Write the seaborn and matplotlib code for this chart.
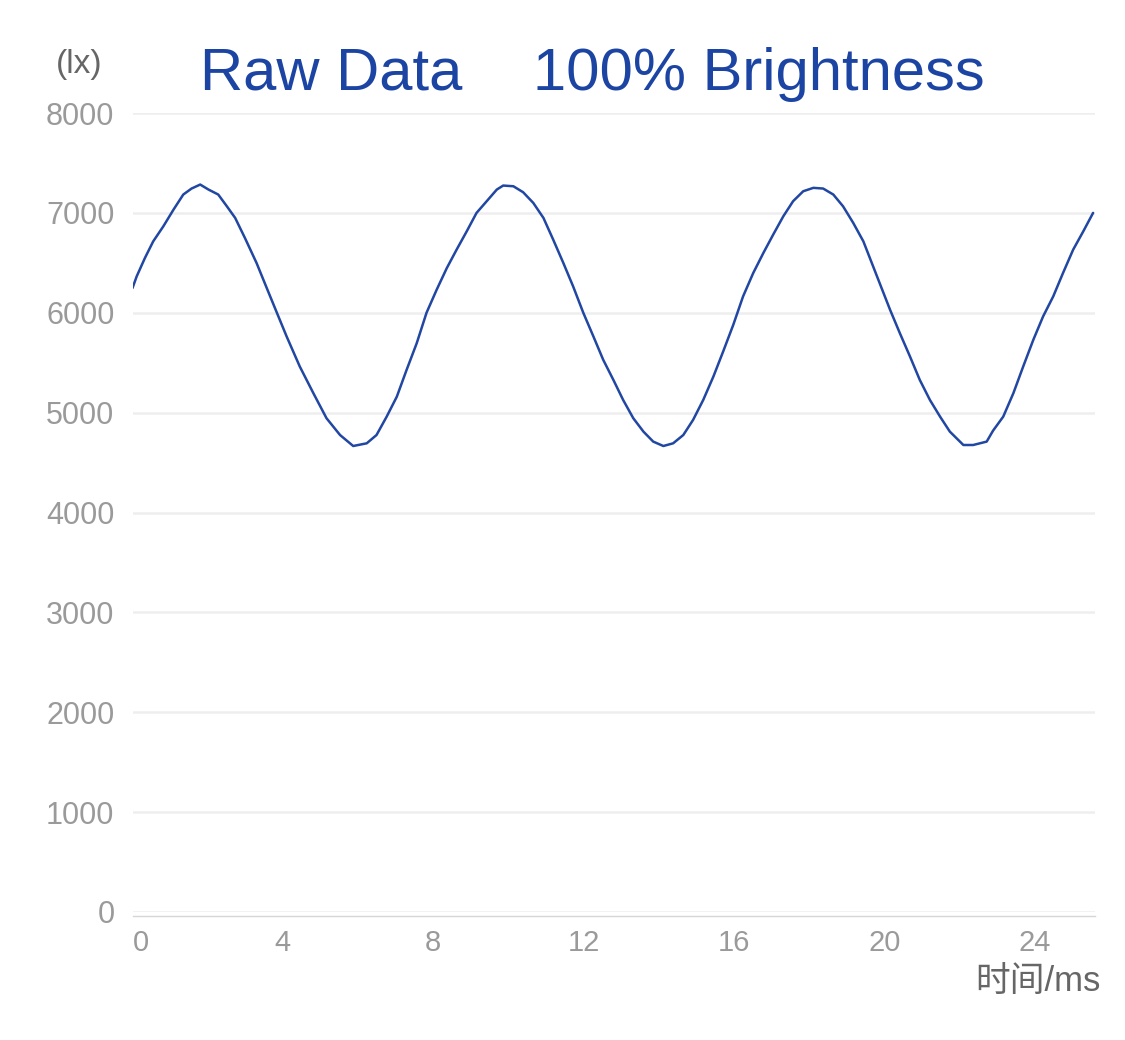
import pandas as pd
import seaborn as sns
import matplotlib.pyplot as plt

# readings from the reference curve (time in ms, illuminance in lx)
time_ms = [
    0.00, 0.11, 0.33, 0.55, 0.82, 1.09, 1.35, 1.57, 1.80, 2.02,
    2.28, 2.51, 2.73, 2.99, 3.30, 3.57, 3.84, 4.10, 4.45, 4.81,
    5.16, 5.52, 5.87, 6.23, 6.49, 6.76, 7.03, 7.29, 7.56, 7.82,
    8.09, 8.36, 8.62, 8.89, 9.15, 9.42, 9.69, 9.86, 10.13, 10.39,
    10.66, 10.93, 11.19, 11.46, 11.72, 11.99, 12.26, 12.52, 12.79, 13.05,
    13.32, 13.59, 13.85, 14.12, 14.38, 14.65, 14.91, 15.18, 15.45, 15.71,
    15.98, 16.24, 16.51, 16.78, 17.04, 17.31, 17.57, 17.84, 18.11, 18.37,
    18.64, 18.90, 19.17, 19.44, 19.70, 19.88, 20.15, 20.41, 20.68, 20.94,
    21.21, 21.48, 21.74, 22.10, 22.36, 22.72, 22.89, 23.16, 23.43, 23.69,
    23.96, 24.22, 24.49, 24.75, 25.02, 25.29, 25.55,
]
lux = [
    6248, 6364, 6549, 6715, 6866, 7033, 7184, 7244, 7284, 7234,
    7184, 7066, 6950, 6749, 6498, 6248, 6000, 5762, 5461, 5195,
    4944, 4776, 4666, 4693, 4776, 4960, 5160, 5428, 5696, 6000,
    6231, 6448, 6632, 6816, 7000, 7117, 7234, 7274, 7267, 7207,
    7100, 6950, 6732, 6498, 6264, 6000, 5762, 5529, 5328, 5127,
    4944, 4810, 4710, 4666, 4693, 4776, 4927, 5127, 5361, 5612,
    5880, 6164, 6398, 6599, 6782, 6966, 7117, 7217, 7251, 7244,
    7184, 7066, 6900, 6715, 6464, 6290, 6030, 5796, 5562, 5328,
    5127, 4960, 4810, 4676, 4676, 4710, 4820, 4960, 5195, 5461,
    5729, 5963, 6164, 6398, 6632, 6816, 7000,
]
x_ticks = [0, 4, 8, 12, 16, 20, 24]
y_ticks = [0, 1000, 2000, 3000, 4000, 5000, 6000, 7000, 8000]

df = pd.DataFrame({'time': time_ms, 'lux': lux})

sns.set_theme(style="white")
plt.rcParams['font.family'] = ['Liberation Sans', 'Noto Sans CJK SC', 'DejaVu Sans']

fig = plt.figure(figsize=(11.25, 10.4), dpi=100)
ax = fig.add_axes([0.1178, 0.1231, 0.9733 - 0.1178, 0.8913 - 0.1231])

sns.lineplot(data=df, x='time', y='lux', ax=ax, color='#2147a3', linewidth=1.8)

ax.set_xlim(0, 25.6)
ax.set_ylim(0, 8000)
ax.set_xticks(x_ticks)
ax.set_yticks(y_ticks)
ax.set_xlabel('')
ax.set_ylabel('')
ax.grid(axis='y', color='#eeeeee', linewidth=1.8)
ax.grid(axis='x', visible=False)
for side in ['top', 'right', 'left']:
    ax.spines[side].set_visible(False)
ax.spines['bottom'].set_color('#d6d6d6')
ax.spines['bottom'].set_linewidth(1.0)
ax.spines['bottom'].set_position(('outward', 3))
ax.tick_params(axis='both', length=0, labelsize=21, labelcolor='#9a9a9a')
ax.tick_params(axis='y', pad=13, labelsize=22)
ax.tick_params(axis='x', pad=9)
ax.get_xticklabels()[0].set_ha('left')

fig.text(79 / 1125, 1 - 64 / 1040, '(lx)', ha='center', va='center',
         fontsize=24, color='#666666')
fig.text(1101 / 1125, 1 - 982 / 1040, '时间/ms', ha='right', va='center',
         fontsize=25, color='#666666',
         family=['Liberation Sans', 'Noto Sans CJK SC'])
fig.text(200 / 1125, 1 - 74 / 1040, 'Raw Data', ha='left', va='center',
         fontsize=43, color='#1c44a3')
fig.text(533 / 1125, 1 - 74 / 1040, '100% Brightness', ha='left', va='center',
         fontsize=43, color='#1c44a3')

fig.savefig('out.png', dpi=100)
plt.close(fig)
